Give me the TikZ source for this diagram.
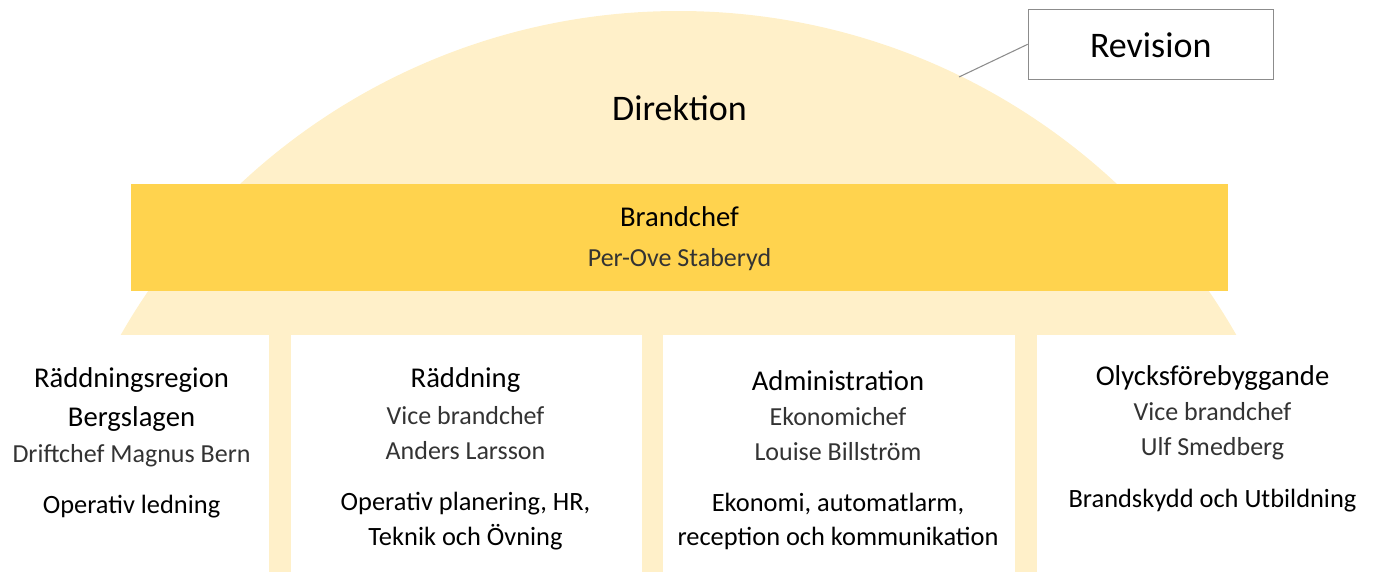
\documentclass[tikz,border=0pt]{standalone}
\usepackage{fontspec}
\setmainfont{Carlito}
\definecolor{domeY}{HTML}{FFF0C9}
\definecolor{barY}{HTML}{FFD34E}
\definecolor{edgeG}{HTML}{8C8C8C}
\tikzset{
  big/.style={anchor=base, inner sep=0pt, font=\fontsize{27}{30}\selectfont},
  ttl/.style={anchor=base, inner sep=0pt, font=\fontsize{21.5}{24}\selectfont},
  sub/.style={anchor=base, inner sep=0pt, text=black!80, font=\fontsize{19.5}{22}\selectfont},
  dsc/.style={anchor=base, inner sep=0pt, font=\fontsize{19.8}{22}\selectfont},
}
\begin{document}
\begin{tikzpicture}[x=0.75pt,y=-0.75pt]
\useasboundingbox (0,0) rectangle (1374,572);
% dome
\begin{scope}
  \clip (0,0) rectangle (1374,334);
  \fill[domeY] (678.5,653) circle [radius=481.5pt];
\end{scope}
% pillars
\fill[domeY] (269,333) rectangle (291,572);
\fill[domeY] (642,333) rectangle (663,572);
\fill[domeY] (1015,333) rectangle (1037,572);
% Brandchef bar
\node[fill=barY, minimum width=822.75pt, minimum height=80.25pt, inner sep=0pt] (bar) at (679.5,237.5) {};
\node[ttl] (bc) at (679.5,226.7) {Brandchef};
\node[sub] (bcn) at (679.5,266.7) {Per-Ove Staberyd};
% Direktion
\node[big] (dir) at (679.5,120) {Direktion};
% Revision
\node[draw=edgeG, line width=0.8pt, minimum width=183.75pt, minimum height=52.5pt, inner sep=0pt] (rev) at (1150.7,44.3) {};
\node[big] (revt) at (1150.7,57) {Revision};
\coordinate (rv) at (959,77);
\draw[edgeG, line width=0.8pt] (rv) -- (rev.west);
% column 1
\node[ttl] (c1a) at (131.5,387.3) {Räddningsregion};
\node[ttl] (c1b) at (131.5,426.7) {Bergslagen};
\node[sub] (c1c) at (131.5,462.7) {Driftchef Magnus Bern};
\node[dsc] (c1d) at (131.5,513.3) {Operativ ledning};
% column 2
\node[ttl] (c2a) at (465.5,387.3) {Räddning};
\node[sub] (c2b) at (465.5,424) {Vice brandchef};
\node[sub] (c2c) at (465.5,459) {Anders Larsson};
\node[dsc] (c2d) at (465.5,510.7) {Operativ planering, HR,};
\node[dsc] (c2e) at (465.5,545.7) {Teknik och Övning};
% column 3
\node[ttl] (c3a) at (838,390) {Administration};
\node[sub] (c3b) at (838,425.7) {Ekonomichef};
\node[sub] (c3c) at (838,460.7) {Louise Billström};
\node[dsc] (c3d) at (838,511.7) {Ekonomi, automatlarm,};
\node[dsc] (c3e) at (838,545.7) {reception och kommunikation};
% column 4
\node[ttl] (c4a) at (1212.5,385) {Olycksförebyggande};
\node[sub] (c4b) at (1212.5,420.7) {Vice brandchef};
\node[sub] (c4c) at (1212.5,455.7) {Ulf Smedberg};
\node[dsc] (c4d) at (1212.5,507.3) {Brandskydd och Utbildning};
\end{tikzpicture}
\end{document}
